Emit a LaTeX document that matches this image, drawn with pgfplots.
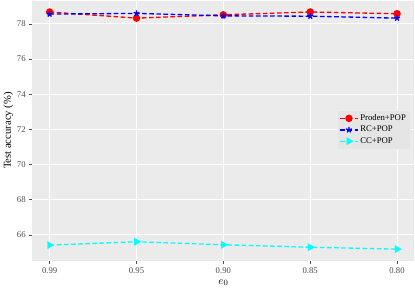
\documentclass[border=0pt]{standalone}
\usepackage{pgfplots}
\pgfplotsset{compat=1.18}
\usepackage{fontspec}
\setmainfont{Liberation Serif}
\definecolor{panelbg}{HTML}{EBEBEB}
\definecolor{tickgray}{HTML}{4D4D4D}
\definecolor{legbg}{HTML}{E5E5E5}
\definecolor{pred}{RGB}{255,0,0}
\definecolor{pblue}{RGB}{0,0,255}
\definecolor{pcyan}{RGB}{0,255,255}
\begin{document}
\begin{tikzpicture}[x=1bp,y=1bp]
\begin{axis}[
  scale only axis,
  width=376bp, height=256bp,
  xmin=-0.2, xmax=4.2,
  ymin=64.53, ymax=79.33,
  xtick={0,1,2,3,4},
  xticklabels={0.99,0.95,0.90,0.85,0.80},
  ytick={66,68,70,72,74,76,78},
  axis background/.style={fill=panelbg},
  axis line style={draw=none},
  grid=major,
  major grid style={white, line width=1.1bp},
  tick style={tickgray, line width=0.6bp},
  tick align=outside,
  major tick length=3bp,
  xtick pos=bottom, ytick pos=left,
  tick label style={font=\fontsize{8.6}{9}\selectfont, text=tickgray},
  /pgf/number format/assume math mode=true,
  yticklabel={\pgfmathprintnumber[fixed]{\tick}},
  xlabel={$e_0$},
  ylabel={Test accuracy (\%)},
  xlabel style={font=\fontsize{11}{12}\selectfont, yshift=1bp},
  ylabel style={font=\fontsize{10.5}{12}\selectfont, yshift=-3bp},
  legend style={at={(0.99,0.58)}, anchor=north east, fill=legbg, draw=white!85!gray,
    font=\fontsize{8.6}{10}\selectfont, row sep=0bp, inner sep=2.5bp},
  legend cell align=left,
  legend image code/.code={
    \draw[mark repeat=2,mark phase=2] plot coordinates {(0cm,0cm) (0.3cm,0cm) (0.6cm,0cm)};
  },
  every axis plot/.append style={line width=1.3bp, dash pattern=on 4.5bp off 2.5bp},
]
\addplot[pred, mark=*, mark size=3bp, mark options={solid}] coordinates {
(0,78.68) (1,78.33) (2,78.52) (3,78.68) (4,78.58)};
\addlegendentry{Proden+POP}
\addplot[pblue, mark=star, mark size=3bp, mark options={solid, line width=1.3bp}] coordinates {
(0,78.56) (1,78.60) (2,78.46) (3,78.44) (4,78.33)};
\addlegendentry{RC+POP}
\addplot[pcyan, mark=triangle*, mark size=3.2bp, mark options={solid, rotate=-90}] coordinates {
(0,65.42) (1,65.61) (2,65.44) (3,65.30) (4,65.19)};
\addlegendentry{CC+POP}
\end{axis}
\end{tikzpicture}
\end{document}
